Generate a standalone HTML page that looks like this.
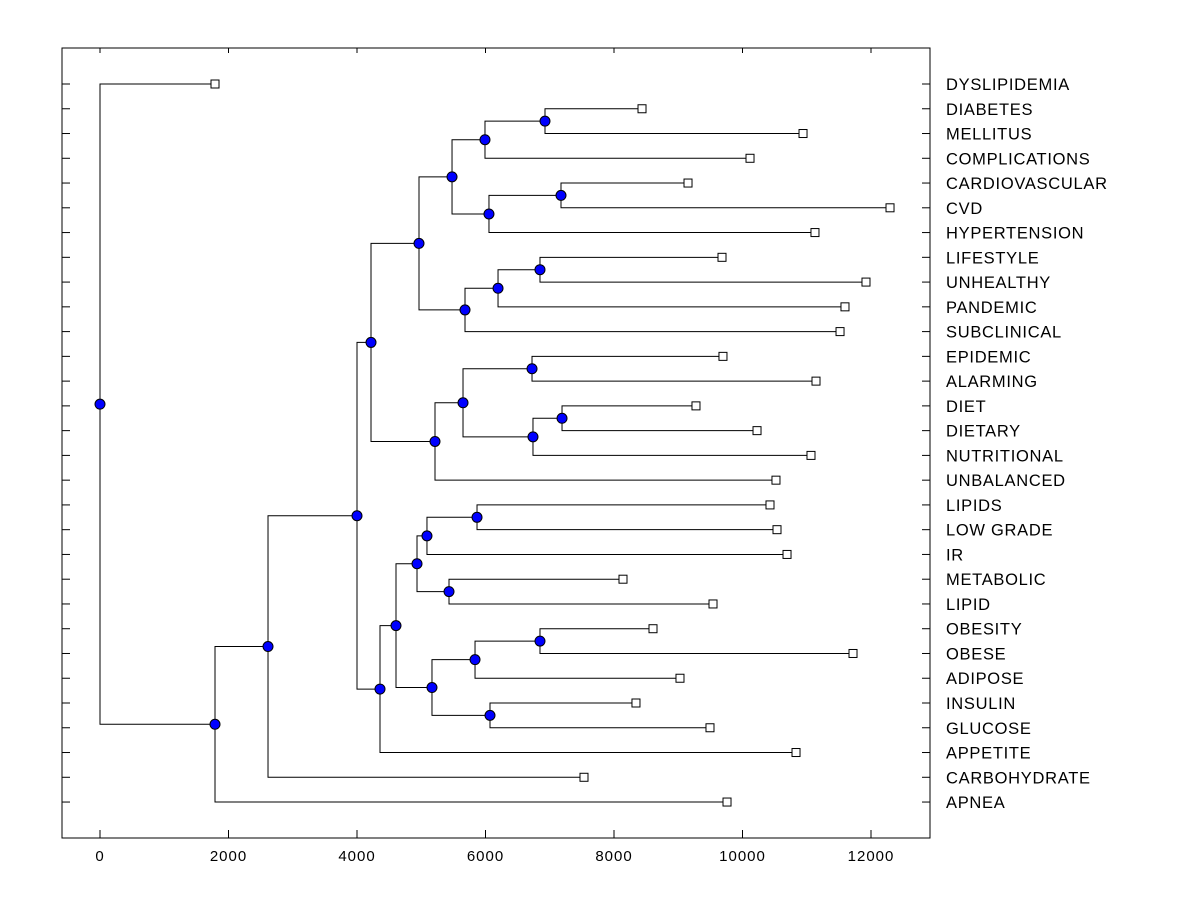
<!DOCTYPE html>
<html><head><meta charset="utf-8"><style>
body{margin:0;background:#fff}
svg{display:block;font-family:"Liberation Sans",Arial,sans-serif}
</style></head><body>
<svg id="chart" width="1200" height="900">
<rect x="62" y="48" width="868" height="790" fill="none" stroke="#000" stroke-width="1"/>
<g id="g"></g>
</svg>
<script>
const leafNames=["DYSLIPIDEMIA","DIABETES","MELLITUS","COMPLICATIONS","CARDIOVASCULAR","CVD","HYPERTENSION","LIFESTYLE","UNHEALTHY","PANDEMIC","SUBCLINICAL","EPIDEMIC","ALARMING","DIET","DIETARY","NUTRITIONAL","UNBALANCED","LIPIDS","LOW GRADE","IR","METABOLIC","LIPID","OBESITY","OBESE","ADIPOSE","INSULIN","GLUCOSE","APPETITE","CARBOHYDRATE","APNEA"];
const leafValues=[1790,8436,10942,10117,9152,12296,11128,9681,11922,11595,11518,9696,11144,9276,10226,11066,10521,10428,10537,10693,8140,9541,8607,11720,9027,8342,9494,10833,7533,9759];
// merges: [left child, right child, height]; numbers = leaf index, "n#" = merge index
const merges=[
[1,2,6926],["n0",3,5992],[4,5,7175],["n2",6,6054],["n1","n3",5479],
[7,8,6848],["n5",9,6195],["n6",10,5681],["n4","n7",4965],
[11,12,6724],[13,14,7191],["n10",15,6739],["n9","n11",5650],["n12",16,5214],["n8","n13",4218],
[17,18,5868],["n15",19,5089],[20,21,5432],["n16","n17",4934],
[22,23,6848],["n19",24,5837],[25,26,6070],["n20","n21",5167],["n18","n22",4607],["n23",27,4358],
["n14","n24",4000],["n25",28,2615],["n26",29,1790],[0,"n27",0]];
const xTicks=[0,2000,4000,6000,8000,10000,12000];
const X=v=>100+v*0.06425, Y=i=>84+i*24.76;
const g=document.getElementById('g'),NS="http://www.w3.org/2000/svg";
function mk(t,a){const e=document.createElementNS(NS,t);for(const k in a)e.setAttribute(k,a[k]);g.appendChild(e);return e;}
xTicks.forEach(t=>{
 const l=mk('line',{x1:X(t),x2:X(t),y1:838,y2:830,stroke:'#000'});
 
 
 const l2=mk('line',{x1:X(t),x2:X(t),y1:48,y2:53,stroke:'#000'});
 
 
 const tx=mk('text',{x:X(t),y:861,'text-anchor':'middle','font-size':15,'letter-spacing':1});
 tx.textContent=t;
 
 
});
leafNames.forEach((n,i)=>{
 const a=mk('line',{x1:62,x2:70,y1:Y(i),y2:Y(i),stroke:'#000'});
 
 
 const b=mk('line',{x1:922,x2:930,y1:Y(i),y2:Y(i),stroke:'#000'});
 
 
 const t=mk('text',{x:946,y:Y(i)+6,'font-size':16.5,'letter-spacing':0.7});
 t.textContent=n;
 
 
});
const pos={};
function get(c){
 if(typeof c==='number')return{x:leafValues[c],y:Y(c),leaf:c};
 return pos[c];
}
const nodes=[];
merges.forEach((m,k)=>{
 const a=get(m[0]),b=get(m[1]),h=m[2];
 const y=(a.y+b.y)/2;
 pos['n'+k]={x:h,y:y};
 [a,b].forEach(c=>{
  const p=mk('polyline',{points:`${X(h)},${y} ${X(h)},${c.y} ${X(c.x)},${c.y}`,fill:'none',stroke:'#000','stroke-width':1});
  
  
 });
 nodes.push([h,y]);
});
leafValues.forEach((v,i)=>{
 const r=mk('rect',{x:X(v)-4,y:Y(i)-4,width:8,height:8,fill:'#fff',stroke:'#000'});
 
 
});
nodes.forEach(([h,y])=>{
 const c=mk('circle',{cx:X(h),cy:y,r:5,fill:'#0000ff',stroke:'#000'});
 
 
});
</script>
</body></html>
